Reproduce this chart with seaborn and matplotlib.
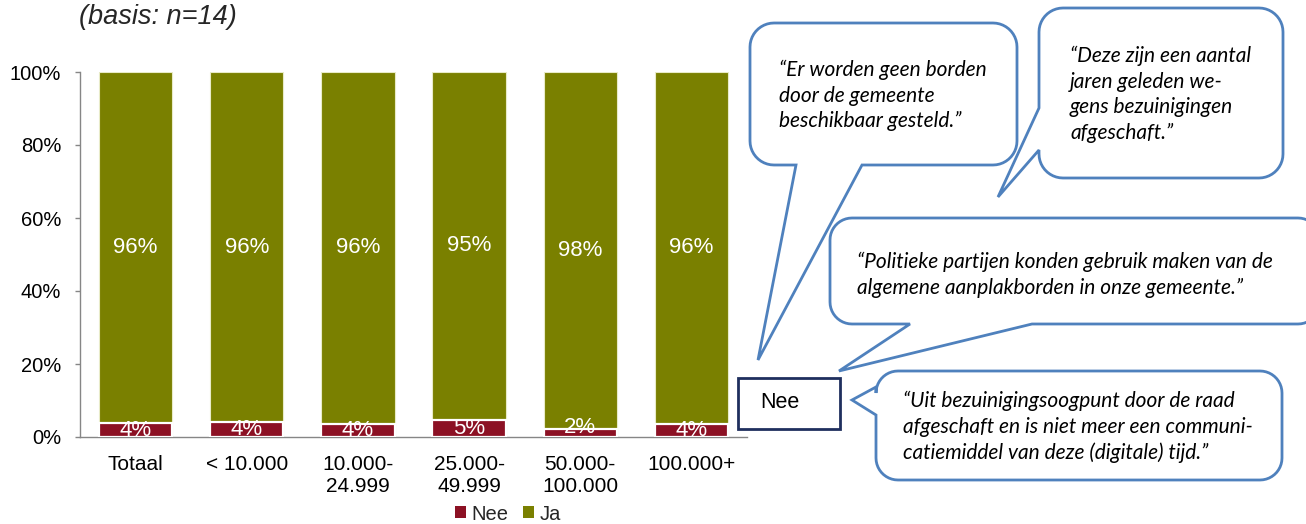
import numpy as np
import pandas as pd
import matplotlib
matplotlib.use("Agg")
import matplotlib.pyplot as plt
from matplotlib.patches import Polygon, Rectangle, Patch
import seaborn as sns

# ---------------- data ----------------
categories = ["Totaal", "< 10.000", "10.000-\n24.999", "25.000-\n49.999",
              "50.000-\n100.000", "100.000+"]
nee = [3.8, 4.1, 3.6, 4.7, 2.1, 3.6]
ja = [96.2, 95.9, 96.4, 95.3, 97.9, 96.4]
series = ["Nee", "Ja"]
yticks = [0, 20, 40, 60, 80, 100]
title = "(basis: n=14)"
box_label = "Nee"
quote1 = ["\u201cEr worden geen borden", "door de gemeente", "beschikbaar gesteld.\u201d"]
quote2 = ["\u201cDeze zijn een aantal", "jaren geleden we-", "gens bezuinigingen", "afgeschaft.\u201d"]
quote3 = ["\u201cPolitieke partijen konden gebruik maken van de",
          "algemene aanplakborden in onze gemeente.\u201d"]
quote4 = ["\u201cUit bezuinigingsoogpunt door de raad",
          "afgeschaft en is niet meer een communi-",
          "catiemiddel van deze (digitale) tijd.\u201d"]

RED = "#8C1124"
GREEN = "#7A8000"
BLUE = "#4F81BD"
NAVY = "#1F2F5E"
AXIS = "#868686"

sns.set_theme(style="white")
plt.rcParams["font.family"] = ["Liberation Sans", "DejaVu Sans"]

W, H = 1306, 524
fig = plt.figure(figsize=(W / 100, H / 100), dpi=100)
fig.patch.set_facecolor("white")
ax = fig.add_axes([80 / W, (H - 437) / H, 667 / W, 365 / H])

df = pd.DataFrame({"cat": categories, "Nee": nee, "Ja": ja})
df["total"] = df["Nee"] + df["Ja"]

sns.barplot(data=df, x="cat", y="total", color=GREEN, saturation=1, width=0.66,
            edgecolor="#E8EBC8", linewidth=0.8, ax=ax, zorder=2)
sns.barplot(data=df, x="cat", y="Nee", color=RED, saturation=1, width=0.66,
            edgecolor="white", linewidth=1.6, ax=ax, zorder=3)

for i, (n, j) in enumerate(zip(nee, ja)):
    ax.text(i, n + j / 2, f"{round(j)}%", ha="center", va="center",
            color="white", fontsize=16, zorder=5)
    yl = n / 2 if n > 3 else n + 0.6
    ax.text(i, yl, f"{round(n)}%", ha="center", va="center",
            color="white", fontsize=16, zorder=5, clip_on=True)

ax.set_ylim(0, 100)
ax.set_xlim(-0.5, len(categories) - 0.5)
ax.set_yticks(yticks)
ax.set_yticklabels([f"{v}%" for v in yticks])
ax.set_xlabel("")
ax.set_ylabel("")
for s in ["top", "right"]:
    ax.spines[s].set_visible(False)
for s in ["left", "bottom"]:
    ax.spines[s].set_color(AXIS)
    ax.spines[s].set_linewidth(1.0)
ax.tick_params(axis="y", length=3.5, width=1, color=AXIS, pad=10,
               labelsize=14.5, labelcolor="black", left=True)
ax.tick_params(axis="x", length=0, pad=13, labelsize=15, labelcolor="black")
ax.grid(False)

handles = [Patch(facecolor=RED, edgecolor="none"), Patch(facecolor=GREEN, edgecolor="none")]
fig.legend(handles, series, loc="center", bbox_to_anchor=(508 / W, (H - 514) / H),
           ncol=2, frameon=False, fontsize=14.5, handlelength=0.55, handleheight=0.55,
           handletextpad=0.3, columnspacing=0.7, borderpad=0)

fig.text(79 / W, (H - 17) / H, title, ha="left", va="center", fontsize=19.5,
         style="italic")

# ---------------- callouts (overlay in pixel coords) ----------------
ov = fig.add_axes([0, 0, 1, 1], zorder=10)
ov.set_xlim(0, W)
ov.set_ylim(H, 0)
ov.axis("off")
ov.patch.set_alpha(0)


def arc(cx, cy, r, a0, a1, n=12):
    t = np.radians(np.linspace(a0, a1, n))
    return list(zip(cx + r * np.cos(t), cy + r * np.sin(t)))


def bubble(x0, y0, x1, y1, r, side, a, b, tip):
    pts = [(x0 + r, y0), (x1 - r, y0)]
    pts += arc(x1 - r, y0 + r, r, -90, 0)
    pts += [(x1, y1 - r)]
    pts += arc(x1 - r, y1 - r, r, 0, 90)
    if side == "bottom":
        pts += [(b, y1), tip, (a, y1)]
    pts += [(x0 + r, y1)]
    pts += arc(x0 + r, y1 - r, r, 90, 180)
    if side == "left":
        pts += [(x0, b), tip, (x0, a)]
    pts += [(x0, y0 + r)]
    pts += arc(x0 + r, y0 + r, r, 180, 270)
    return pts


qfont = dict(family=["Lato", "DejaVu Sans"], style="italic", fontsize=15, color="black")

bubbles = [
    (bubble(750, 23, 1017, 165, 24, "bottom", 796, 862, (758, 360)), quote1, 779, 70, 25.5),
    (bubble(1039, 8, 1283, 178, 24, "left", 108, 150, (998, 197)), quote2, 1070, 56, 25.7),
    (bubble(830, 218, 1320, 324, 22, "bottom", 910, 1032, (839, 371)), quote3, 857, 262, 25.5),
    (bubble(876, 371, 1282, 480, 22, "left", 387, 415, (852, 400)), quote4, 903, 401, 26),
]
for pts, lines, tx, ty, dy in bubbles:
    ov.add_patch(Polygon(pts, closed=True, facecolor="white", edgecolor=BLUE,
                         linewidth=2.0, joinstyle="miter"))
    for k, line in enumerate(lines):
        ov.text(tx, ty + k * dy, line, ha="left", va="center", **qfont)

ov.add_patch(Rectangle((738, 378), 102, 51, facecolor="white", edgecolor=NAVY, linewidth=2))
ov.text(780, 403, box_label, ha="center", va="center", fontsize=15.5, color="black")

fig.savefig("out.png", dpi=100)
